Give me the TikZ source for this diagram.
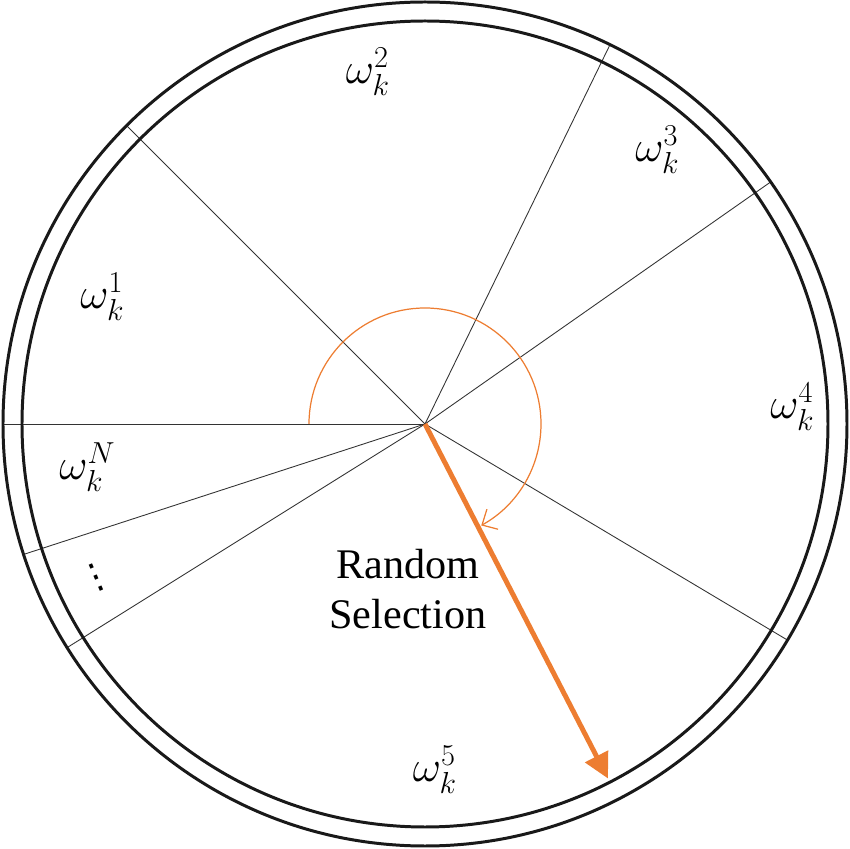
\documentclass[tikz,border=0pt]{standalone}
\usepackage{fontspec}
\setmainfont{Liberation Serif}
\newfontfamily\dejavu{DejaVu Sans}
\usepackage{amsmath,amssymb}
\usetikzlibrary{arrows.meta}

\definecolor{selorange}{HTML}{ED7D31}

\begin{document}
\begin{tikzpicture}[
    spoke/.style={line width=0.5pt,black!80},
    ring/.style={line width=1.7pt,black!90},
    wlab/.style={font=\fontsize{26}{30}\selectfont},
    seltext/.style={font=\fontsize{24}{28.5}\selectfont,align=center}
  ]
    \useasboundingbox (-8.5,-8.5) rectangle (8.5,8.48);
    \coordinate (O) at (0,0);
    % spokes
    \foreach \a in {135,64,35,180,198,212,-30.8}
      \draw[spoke] (O) -- (\a:8.44);
    % double ring
    \draw[ring] (O) circle (8.44);
    \draw[ring] (O) circle (8.06);
    % turning arc and selection arrow
    \draw[selorange,line width=0.7pt,-{Straight Barb[length=2.4mm,width=4.6mm]}]
      (180:2.32) arc (180:-61:2.32);
    \coordinate (tip) at (-62.7:7.98);
    \draw[selorange,line width=2.8pt,-{Triangle[length=5mm,width=5mm]}] (O) -- (tip);
    % segment weights
    \node[wlab] (w2) at (-1.14,7.04) {$\omega_k^2$};
    \node[wlab] (w3) at (4.65,5.48) {$\omega_k^3$};
    \node[wlab] (w1) at (-6.45,2.54) {$\omega_k^1$};
    \node[wlab] (w4) at (7.35,0.34) {$\omega_k^4$};
    \node[wlab] (wN) at (-6.75,-0.86) {$\omega_k^N$};
    \node[rotate=23,font=\dejavu\fontsize{20}{24}\selectfont] (dots) at (-6.58,-3.08) {⋮};
    \node[wlab] (w5) at (0.2,-6.92) {$\omega_k^5$};
    \node[seltext] (sel) at (-0.34,-3.3) {Random\\Selection};
  \end{tikzpicture}
\end{document}
